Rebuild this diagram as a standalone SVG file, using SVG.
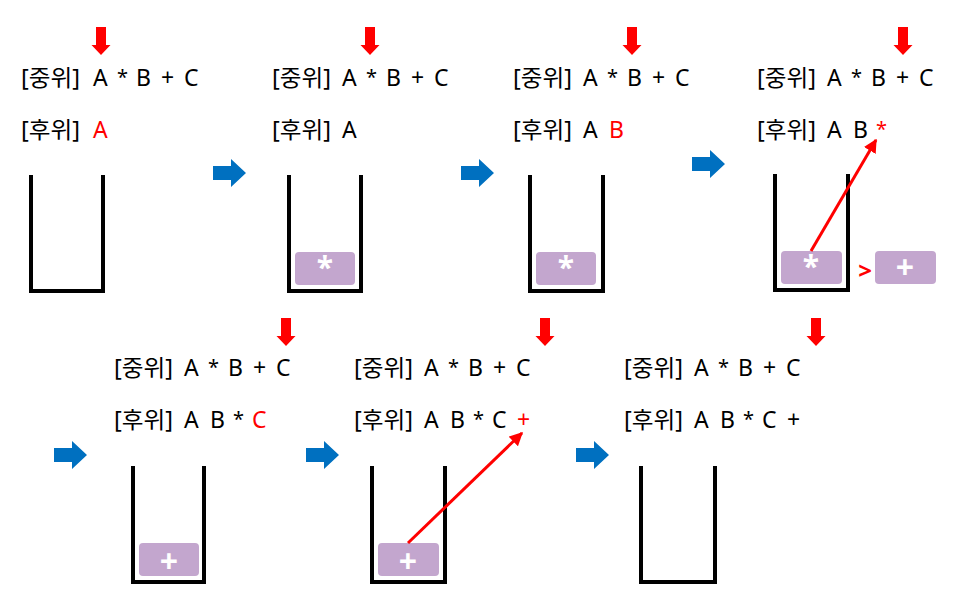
<svg xmlns="http://www.w3.org/2000/svg" width="974" height="603" viewBox="0 0 974 603">
<style>
.t{font-family:"Noto Sans","Noto Sans CJK KR",sans-serif;font-size:23px;fill:#000}
.s{font-size:20px;baseline-shift:2px}
.r{fill:#FF0000}
.bk{fill:none;stroke:#000;stroke-width:4;stroke-linecap:square;stroke-linejoin:miter}
.box{fill:#C3A6CE}
.op{font-family:"Noto Sans","DejaVu Sans",sans-serif;font-weight:bold;fill:#fff;text-anchor:middle}
.down{fill:#FF0000}
.blue{fill:#0070C0}
.ln{stroke:#FF0000;stroke-width:3;fill:none}
</style>
<defs>
<marker id="ah" viewBox="0 0 10 10" refX="9" refY="5" markerWidth="4.5" markerHeight="4.5" orient="auto" markerUnits="strokeWidth">
<path d="M0,0 L10,5 L0,10 z" fill="#FF0000"/>
</marker>
<path id="dn" d="M-5,0 H5 V18 H9.5 L0,28 L-9.5,18 H-5 Z"/>
<path id="rt" d="M0,7 H18 V0 L33,14 L18,28 V21 H0 Z"/>
</defs>

<g id="panel1">
<use href="#dn" class="down" x="101" y="27"/>
<text class="t" y="86"><tspan x="21" textLength="59" lengthAdjust="spacingAndGlyphs">[중위]</tspan><tspan x="93">A</tspan><tspan x="117" class="s">*</tspan><tspan x="136">B</tspan><tspan x="161">+</tspan><tspan x="184">C</tspan></text>
<text class="t" y="138"><tspan x="21" textLength="59" lengthAdjust="spacingAndGlyphs">[후위]</tspan><tspan x="93" class="r">A</tspan></text>
<path class="bk" d="M31,177 V291 H103 V177"/>
</g>

<g id="panel2">
<use href="#rt" class="blue" x="213" y="159"/>
<use href="#dn" class="down" x="370" y="27"/>
<text class="t" y="86"><tspan x="272" textLength="59" lengthAdjust="spacingAndGlyphs">[중위]</tspan><tspan x="342">A</tspan><tspan x="366" class="s">*</tspan><tspan x="386">B</tspan><tspan x="411">+</tspan><tspan x="434">C</tspan></text>
<text class="t" y="138"><tspan x="272" textLength="59" lengthAdjust="spacingAndGlyphs">[후위]</tspan><tspan x="342">A</tspan></text>
<path class="bk" d="M289,177 V291 H361 V177"/>
<rect class="box" x="295" y="252" width="60" height="33" rx="4"/>
<text class="op" x="325" y="278" font-size="30">*</text>
</g>

<g id="panel3">
<use href="#rt" class="blue" x="461" y="159"/>
<use href="#dn" class="down" x="632" y="27"/>
<text class="t" y="86"><tspan x="513" textLength="59" lengthAdjust="spacingAndGlyphs">[중위]</tspan><tspan x="583">A</tspan><tspan x="607" class="s">*</tspan><tspan x="627">B</tspan><tspan x="652">+</tspan><tspan x="675">C</tspan></text>
<text class="t" y="138"><tspan x="513" textLength="59" lengthAdjust="spacingAndGlyphs">[후위]</tspan><tspan x="583">A</tspan><tspan x="609" class="r">B</tspan></text>
<path class="bk" d="M530,177 V291 H603 V177"/>
<rect class="box" x="536" y="252" width="60" height="33" rx="4"/>
<text class="op" x="566" y="278" font-size="30">*</text>
</g>

<g id="panel4">
<use href="#rt" class="blue" x="692" y="150"/>
<use href="#dn" class="down" x="903" y="27"/>
<text class="t" y="86"><tspan x="757" textLength="59" lengthAdjust="spacingAndGlyphs">[중위]</tspan><tspan x="827">A</tspan><tspan x="851" class="s">*</tspan><tspan x="871">B</tspan><tspan x="896">+</tspan><tspan x="919">C</tspan></text>
<text class="t" y="138"><tspan x="757" textLength="59" lengthAdjust="spacingAndGlyphs">[후위]</tspan><tspan x="827">A</tspan><tspan x="853">B</tspan><tspan x="876" class="s r">*</tspan></text>
<path class="bk" d="M775,176 V290 H848 V176"/>
<rect class="box" x="781" y="251" width="61" height="33" rx="4"/>
<text class="op" x="811" y="277" font-size="30">*</text>
<text x="865" y="279" font-family="Noto Sans, sans-serif" font-weight="bold" font-size="24" fill="#FF0000" text-anchor="middle">&gt;</text>
<rect class="box" x="875" y="251" width="61" height="33" rx="4"/>
<text class="op" x="905" y="279" font-size="32">+</text>
</g>

<g id="panel5">
<use href="#rt" class="blue" x="54" y="441"/>
<use href="#dn" class="down" x="286" y="318"/>
<text class="t" y="376"><tspan x="114" textLength="59" lengthAdjust="spacingAndGlyphs">[중위]</tspan><tspan x="184">A</tspan><tspan x="208" class="s">*</tspan><tspan x="228">B</tspan><tspan x="253">+</tspan><tspan x="276">C</tspan></text>
<text class="t" y="428"><tspan x="114" textLength="59" lengthAdjust="spacingAndGlyphs">[후위]</tspan><tspan x="184">A</tspan><tspan x="210">B</tspan><tspan x="233" class="s">*</tspan><tspan x="252" class="r">C</tspan></text>
<path class="bk" d="M133,468 V582 H204 V468"/>
<rect class="box" x="139" y="543" width="60" height="33" rx="4"/>
<text class="op" x="169" y="573" font-size="32">+</text>
</g>

<g id="panel6">
<use href="#rt" class="blue" x="306" y="441"/>
<use href="#dn" class="down" x="545" y="318"/>
<text class="t" y="376"><tspan x="354" textLength="59" lengthAdjust="spacingAndGlyphs">[중위]</tspan><tspan x="424">A</tspan><tspan x="448" class="s">*</tspan><tspan x="468">B</tspan><tspan x="493">+</tspan><tspan x="516">C</tspan></text>
<text class="t" y="428"><tspan x="354" textLength="59" lengthAdjust="spacingAndGlyphs">[후위]</tspan><tspan x="424">A</tspan><tspan x="450">B</tspan><tspan x="473" class="s">*</tspan><tspan x="492">C</tspan><tspan x="517" class="r">+</tspan></text>
<path class="bk" d="M372,468 V582 H445 V468"/>
<rect class="box" x="378" y="543" width="61" height="33" rx="4"/>
<text class="op" x="408" y="573" font-size="32">+</text>
</g>

<g id="panel7">
<use href="#rt" class="blue" x="576" y="441"/>
<use href="#dn" class="down" x="816" y="318"/>
<text class="t" y="376"><tspan x="624" textLength="59" lengthAdjust="spacingAndGlyphs">[중위]</tspan><tspan x="694">A</tspan><tspan x="718" class="s">*</tspan><tspan x="738">B</tspan><tspan x="763">+</tspan><tspan x="786">C</tspan></text>
<text class="t" y="428"><tspan x="624" textLength="59" lengthAdjust="spacingAndGlyphs">[후위]</tspan><tspan x="694">A</tspan><tspan x="720">B</tspan><tspan x="743" class="s">*</tspan><tspan x="762">C</tspan><tspan x="787">+</tspan></text>
<path class="bk" d="M641,468 V582 H715 V468"/>
</g>

<g id="connectors">
<line class="ln" x1="811" y1="251" x2="876" y2="140" marker-end="url(#ah)"/>
<line class="ln" x1="408" y1="543" x2="522" y2="433" marker-end="url(#ah)"/>
</g>
</svg>
